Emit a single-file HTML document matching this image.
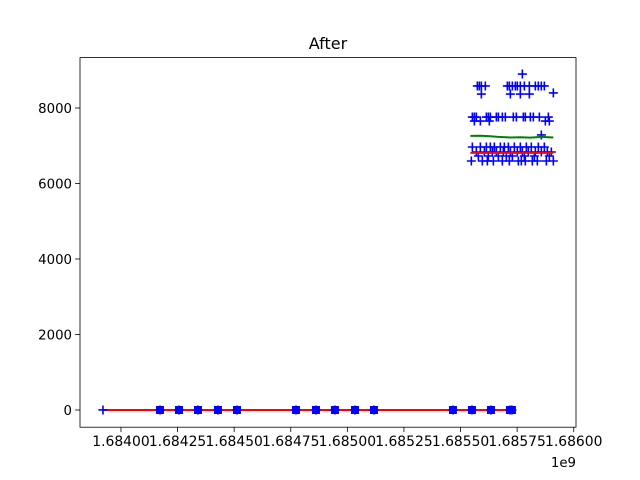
<!DOCTYPE html>
<html><head><meta charset="utf-8"><style>
html,body{margin:0;padding:0;background:#fff;}
svg{display:block;font-family:"DejaVu Sans","Liberation Sans",sans-serif;}
</style></head><body>
<svg id="chart" width="640" height="480" viewBox="0 0 640 480"></svg>
<script>
// x values in thousands of seconds offset from 1.685e9
const bottomX = [-1079.5,-827.7,-743.8,-659.9,-571.6,-487.6,-227.0,-138.7,-54.8,33.6,117.5,466.4,550.4,634.3,718.2,727.0];
const bottomY = [0,0,0,0,0,0,0,0,0,0,0,0,0,0,0,0];
const topX = [773.0,
 574.2,583.0,591.9,609.5,706.7,715.6,728.8,742.1,750.9,764.1,781.8,803.9,830.4,843.6,856.9,870.1,
 591.9,720.0,764.1,803.9,909.9,
 552.1,561.0,569.8,614.0,622.8,631.6,658.1,667.0,684.6,697.9,733.2,746.5,777.4,786.2,808.3,821.6,848.1,887.8,
 561.0,587.5,627.2,874.6,892.2,
 856.9,
 552.1,587.5,614.0,631.6,649.3,675.8,693.5,711.1,737.6,764.1,790.6,812.7,843.6,870.1,
 569.8,605.1,640.5,658.1,689.1,720.0,750.9,773.0,799.5,830.4,856.9,883.4,901.1,
 578.6,622.8,667.0,702.3,728.8,781.8,826.0,892.2,
 547.7,596.3,618.4,644.9,684.6,715.6,755.3,768.6,786.2,817.1,839.2,879.0,909.9];
const topY = [8900,
 8583,8583,8583,8583,8583,8583,8583,8583,8583,8583,8583,8583,8583,8583,8583,8583,
 8370,8370,8370,8370,8400,
 7760,7760,7760,7760,7760,7760,7760,7760,7760,7760,7760,7760,7760,7760,7760,7760,7760,7760,
 7655,7655,7655,7655,7655,
 7285,
 6967,6967,6967,6967,6967,6967,6967,6967,6967,6967,6967,6967,6967,6967,
 6834,6834,6834,6834,6834,6834,6834,6834,6834,6834,6834,6834,6834,
 6728,6728,6728,6728,6728,6728,6728,6728,
 6596,6596,6596,6596,6596,6596,6596,6596,6596,6596,6596,6596,6596];
const greenX = [543.3,587.5,631.6,675.8,720.0,764.1,808.3,856.9,909.9];
const greenY = [7260,7265,7250,7230,7220,7225,7215,7235,7220];
const redTopX = [543.3,909.9];
const redTopY = [6810,6810];
const redBotX = [-1079.5,727.0];
const redBotY = [0,0];
const xTickVals = [-1000,-750,-500,-250,0,250,500,750,1000];
const xTickLabels = ["1.68400","1.68425","1.68450","1.68475","1.68500","1.68525","1.68550","1.68575","1.68600"];
const yTickVals = [0,2000,4000,6000,8000];
const yTickLabels = ["0","2000","4000","6000","8000"];

const NS="http://www.w3.org/2000/svg";
const svg=document.getElementById('chart');
const L=80,R=576,T=57.6,B=427.2;
const xMin=-1181,xMax=1010,yMin=-456,yMax=9335;
const sx=v=>L+(v-xMin)/(xMax-xMin)*(R-L);
const sy=v=>B-(v-yMin)/(yMax-yMin)*(B-T);
function mk(tag,attrs){const e=document.createElementNS(NS,tag);for(const k in attrs)e.setAttribute(k,attrs[k]);svg.appendChild(e);return e;}

function line(xs,ys,color,name){
  const p=mk('polyline',{points:xs.map((x,i)=>sx(x)+','+sy(ys[i])).join(' '),fill:'none',stroke:color,'stroke-width':2});
  
  
}
function plus(x,y){
  const cx=sx(x),cy=sy(y);
  const p=mk('path',{d:`M${cx-4.5},${cy}H${cx+4.5}M${cx},${cy-4.5}V${cy+4.5}`,stroke:'#0000ff','stroke-width':1.6,fill:'none'});
  
  
}
line(redBotX,redBotY,'#ff0000','red-line-bottom');
bottomX.forEach((x,i)=>{
  if(i===0)return;
  const r=mk('rect',{x:sx(x)-3.5,y:sy(bottomY[i])-3.5,width:7,height:7,fill:'#0000ff',stroke:'#0000ff','stroke-width':1});
  
  
});
bottomX.forEach((x,i)=>plus(x,bottomY[i]));
topX.forEach((x,i)=>plus(x,topY[i]));
line(greenX,greenY,'#008000','green-line');
line(redTopX,redTopY,'#ff0000','red-line-top');

const f=mk('rect',{x:L,y:T,width:R-L,height:B-T,fill:'none',stroke:'#000','stroke-width':0.8});


xTickVals.forEach((v,i)=>{
  const x=sx(v);
  mk('line',{x1:x,y1:B,x2:x,y2:B+4.9,stroke:'#000','stroke-width':0.8});
  const t=mk('text',{x:x,y:B+19,'font-size':13.9,'text-anchor':'middle',fill:'#000'});
  t.textContent=xTickLabels[i];
  
  
});
yTickVals.forEach((v,i)=>{
  const y=sy(v);
  mk('line',{x1:L,y1:y,x2:L-4.9,y2:y,stroke:'#000','stroke-width':0.8});
  const t=mk('text',{x:L-8,y:y+4.8,'font-size':13.3,'text-anchor':'end',fill:'#000'});
  t.textContent=yTickLabels[i];
  
  
});
const off=mk('text',{x:R,y:467,'font-size':13.3,'text-anchor':'end',fill:'#000'});
off.textContent='1e9';


const ti=mk('text',{x:(L+R)/2,y:49,'font-size':16,'text-anchor':'middle',fill:'#000'});
ti.textContent='After';


</script>
</body></html>
